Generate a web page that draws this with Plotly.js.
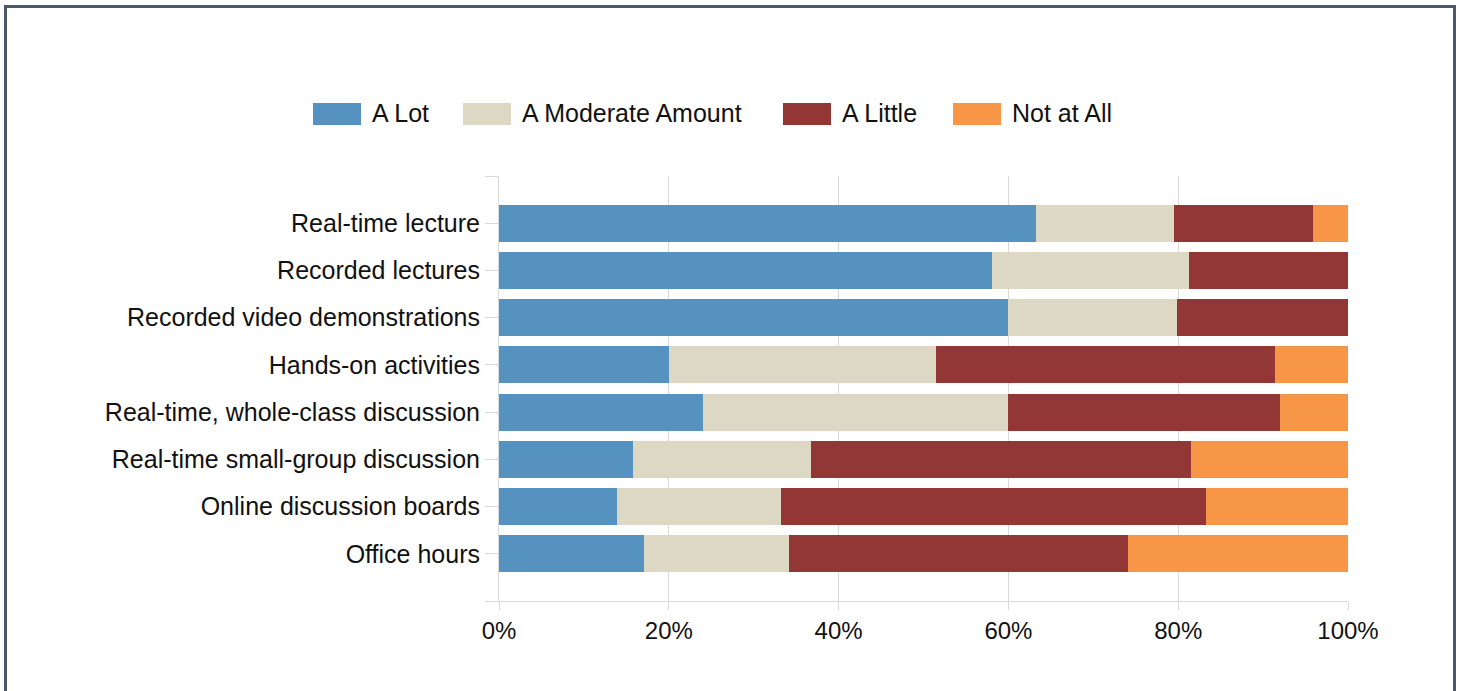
<!DOCTYPE html>
<html>
<head>
<meta charset="utf-8">
<script src="https://cdn.plot.ly/plotly-3.0.1.min.js"></script>
<style>
  html, body { margin: 0; padding: 0; background: #ffffff; }
  #wrap { position: relative; width: 1463px; height: 691px; overflow: hidden; }
  #chart { width: 1463px; height: 691px; }
  #frame { position: absolute; left: 4px; top: 5px; width: 1446px; height: 700px;
           border: 3px solid #4a5869; pointer-events: none; }
</style>
</head>
<body>
<div id="wrap">
  <div id="chart"></div>
  <div id="frame"></div>
</div>
<script>
// ---- data ----
const categories = [
  "Real-time lecture",
  "Recorded lectures",
  "Recorded video demonstrations",
  "Hands-on activities",
  "Real-time, whole-class discussion",
  "Real-time small-group discussion",
  "Online discussion boards",
  "Office hours"
];
const seriesNames = ["A Lot", "A Moderate Amount", "A Little", "Not at All"];
const aLot      = [63.3, 58.1, 60.0, 20.0, 24.0, 15.8, 13.9, 17.1];
const moderate  = [16.2, 23.2, 19.9, 31.5, 36.0, 20.9, 19.3, 17.1];
const aLittle   = [16.4, 18.7, 20.1, 39.9, 32.0, 44.8, 50.1, 39.9];
const notAtAll  = [4.1,  0.0,  0.0,  8.6,  8.0, 18.5, 16.7, 25.9];
const xTickVals = [0, 20, 40, 60, 80, 100];
const xTickText = ["0%", "20%", "40%", "60%", "80%", "100%"];

// ---- styles ----
const colors = ["#5592bf", "#dcd8c4", "#923636", "#f79646"];
const seriesValues = [aLot, moderate, aLittle, notAtAll];
const idx = categories.map((c, i) => i);
const FONT = "Liberation Sans, Arial, sans-serif";
const GRID = "#d9d9d9";
const TXT = "#111111";

const traces = seriesValues.map((vals, s) => ({
  type: "bar",
  orientation: "h",
  name: seriesNames[s],
  x: vals,
  y: idx,
  width: 0.78,
  marker: { color: colors[s], line: { width: 0 } },
  showlegend: false,
  hoverinfo: "x+name"
}));

// plot area in pixels (for custom legend placement)
const L = 499, R = 1348, T = 176, B = 601;
const px2x = p => (p - L) / (R - L);
const px2y = p => (B - p) / (B - T);
const swatchLeft = [313, 463, 783, 953];
const swW = 48, swTop = 103, swBot = 125, textGap = 9, legendMid = 113;

const shapes = [];
const annotations = [];
seriesNames.forEach((n, s) => {
  shapes.push({
    type: "rect", xref: "paper", yref: "paper",
    x0: px2x(swatchLeft[s]), x1: px2x(swatchLeft[s] + swW),
    y0: px2y(swBot), y1: px2y(swTop),
    fillcolor: colors[s], line: { width: 0 }
  });
  annotations.push({
    xref: "paper", yref: "paper",
    x: px2x(swatchLeft[s] + swW + textGap), y: px2y(legendMid),
    xanchor: "left", yanchor: "middle", showarrow: false,
    text: n, font: { family: FONT, size: 25, color: TXT }
  });
});

const yTickVals = [-1].concat(idx, [categories.length]);
const yTickText = [""].concat(categories, [""]);

const layout = {
  width: 1463, height: 691,
  margin: { l: L, r: 1463 - R, t: T, b: 691 - B, pad: 0 },
  paper_bgcolor: "#ffffff",
  plot_bgcolor: "#ffffff",
  barmode: "stack",
  showlegend: false,
  font: { family: FONT, size: 24, color: TXT },
  xaxis: {
    range: [0, 100],
    tickvals: xTickVals,
    ticktext: xTickText,
    showgrid: true, gridcolor: GRID, gridwidth: 1,
    zeroline: false,
    showline: true, linecolor: GRID, linewidth: 1,
    ticks: "outside", ticklen: 8, tickcolor: GRID, tickwidth: 1,
    tickfont: { family: FONT, size: 24, color: TXT },
    fixedrange: true
  },
  yaxis: {
    range: [categories.length, -1],
    tickvals: yTickVals,
    ticktext: yTickText,
    showgrid: false,
    zeroline: false,
    showline: true, linecolor: GRID, linewidth: 1,
    ticks: "outside", ticklen: 13, tickcolor: GRID, tickwidth: 1,
    ticklabelstandoff: 0,
    tickfont: { family: FONT, size: 25, color: TXT },
    fixedrange: true
  },
  shapes: shapes,
  annotations: annotations
};

Plotly.newPlot("chart", traces, layout, { displayModeBar: false, staticPlot: true });
</script>
</body>
</html>
